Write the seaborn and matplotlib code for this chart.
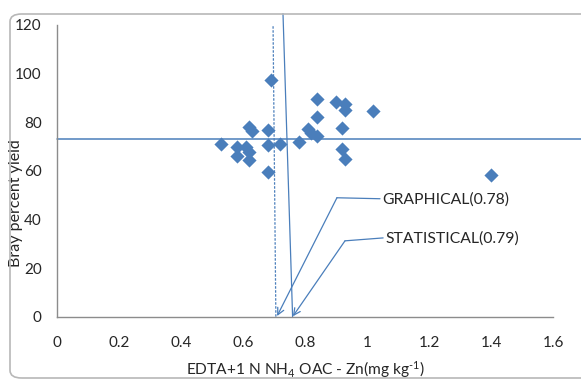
import matplotlib
matplotlib.use("Agg")
import matplotlib.pyplot as plt
from matplotlib.patches import FancyBboxPatch
import seaborn as sns
import pandas as pd

# Available zinc (EDTA + 1 N NH4OAc) against Bray percent yield
zn_edta = [0.53, 0.58, 0.58, 0.61, 0.62, 0.62, 0.62, 0.63, 0.68, 0.68,
           0.68, 0.69, 0.72, 0.78, 0.81, 0.82, 0.84, 0.84, 0.84, 0.90,
           0.93, 0.93, 0.92, 0.92, 0.93, 1.02, 1.40]
bray_yield = [71.3, 69.7, 66.0, 69.7, 67.8, 64.6, 78.1, 76.3, 77.0, 70.8,
              59.5, 97.5, 71.2, 72.1, 77.2, 75.8, 74.2, 89.6, 82.3, 88.2,
              87.7, 84.9, 77.6, 69.1, 65.0, 84.8, 58.4]

x_ticks = [0, 0.2, 0.4, 0.6, 0.8, 1, 1.2, 1.4, 1.6]
x_tick_labels = ["0", "0.2", "0.4", "0.6", "0.8", "1", "1.2", "1.4", "1.6"]
y_ticks = [0, 20, 40, 60, 80, 100, 120]

yield_level = 73.2          # horizontal division line (percent yield)
critical_labels = ["GRAPHICAL(0.78)", "STATISTICAL(0.79)"]

df = pd.DataFrame({"zn": zn_edta, "yield": bray_yield})

sns.set_theme(style="white")
plt.rcParams["font.family"] = ["Lato", "DejaVu Sans"]
plt.rcParams["mathtext.fontset"] = "custom"
plt.rcParams["mathtext.rm"] = "Lato"
plt.rcParams["mathtext.default"] = "regular"

blue = "#4a7ebb"
ink = "#262626"
W, H = 581, 381
fig = plt.figure(figsize=(W / 100, H / 100), dpi=100)
fig.patch.set_facecolor("white")

# chart-area frame with rounded corners
frame = FancyBboxPatch((10 / W, 3 / H), 1.2, 364 / H,
                       boxstyle="round,pad=0,rounding_size=0.02",
                       transform=fig.transFigure, facecolor="none",
                       edgecolor="#b8b8b8", linewidth=1.2, zorder=0)
fig.patches.append(frame)

ax = fig.add_axes([57 / W, (H - 317) / H, 496 / W, 292 / H])
ax.set_facecolor("none")

sns.scatterplot(data=df, x="zn", y="yield", marker="D", s=52,
                color=blue, edgecolor=blue, linewidth=0, ax=ax, zorder=3)

ax.set_xlim(0, 1.6)
ax.set_ylim(0, 120)
ax.set_xticks(x_ticks)
ax.set_xticklabels(x_tick_labels)
ax.set_yticks(y_ticks)
ax.tick_params(axis="x", length=0, pad=14, labelsize=11, labelcolor=ink)
ax.tick_params(axis="y", length=0, pad=11, labelsize=11, labelcolor=ink)

for side in ("top", "right"):
    ax.spines[side].set_visible(False)
for side in ("left", "bottom"):
    ax.spines[side].set_color("#8c8c8c")
    ax.spines[side].set_linewidth(1.0)

ax.set_xlabel("EDTA+1 N NH$_4$ OAC - Zn(mg kg$^{\u2010 1}$)", fontsize=11.2,
              color=ink)
ax.set_ylabel("Bray percent yield", fontsize=11.5, color=ink)
ax.xaxis.set_label_coords(0.5, -0.145)
ax.yaxis.set_label_coords(-0.068, 0.39)

# dividing lines
ax.plot([0, 1.69], [yield_level, yield_level], color=blue, lw=1.1,
        clip_on=False, zorder=2)
ax.plot([0.697, 0.706], [119.5, 0], color=blue, lw=0.9, ls=(0, (2, 1.2)),
        clip_on=False, zorder=2)
ax.plot([0.729, 0.760], [124.7, 0], color=blue, lw=0.9,
        clip_on=False, zorder=2)

# callouts pointing at the critical levels
callouts = [
    (critical_labels[0], (1.048, 48.3), [(1.042, 48.6), (0.903, 49.0), (0.710, 0.4)]),
    (critical_labels[1], (1.061, 32.2), [(1.052, 32.5), (0.929, 31.3), (0.761, 0.3)]),
]
for text, pos, pts in callouts:
    ax.text(pos[0], pos[1], text, fontsize=11.3, color=ink,
            ha="left", va="center")
    (x0, y0), (x1, y1), (x2, y2) = pts
    ax.plot([x0, x1], [y0, y1], color=blue, lw=0.9, zorder=2)
    ax.annotate("", xy=(x2, y2), xytext=(x1, y1),
                arrowprops=dict(arrowstyle="->", color=blue, lw=0.9,
                                shrinkA=0, shrinkB=0, mutation_scale=12))

fig.savefig("out.png", dpi=100)
